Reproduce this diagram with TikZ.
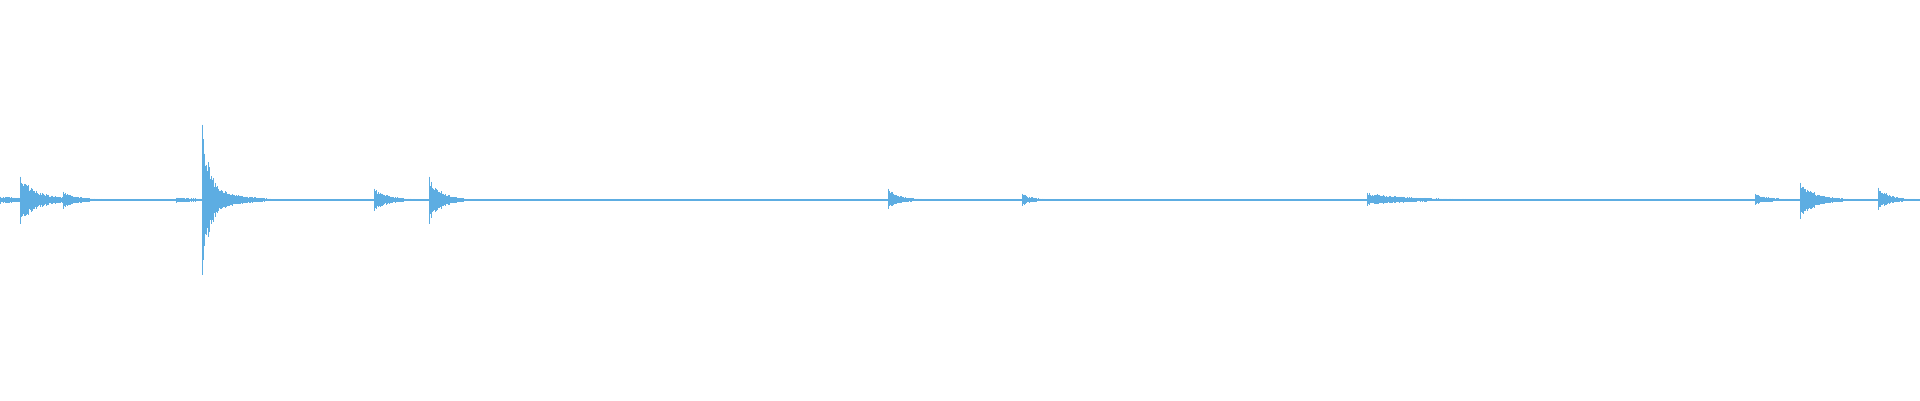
\documentclass[tikz,border=0pt]{standalone}
\definecolor{wavecol}{RGB}{93,173,226}
\begin{document}
\begin{tikzpicture}[x=1pt, y=1pt, wave/.style={draw=wavecol, line width=1pt}]
    \useasboundingbox (0,-200) rectangle (1920,200);
    \pgfmathsetseed{7}
    % baseline
    \draw[wave, line width=1.4pt] (0,0) -- (1920,0);
    % bursts: position / up / down / decay
    \foreach \px/\up/\dn/\dec in {0/3/3/60, 20/23/23/18, 63/8/8/14, 176/2/2/30, 202/75/74/9, 210/20/18/20,
        374/11/10/14, 429/23/23/12, 888/11/8/12, 1022/6/5/10, 1367/7/5/40, 1755/6/4/14,
        1800/17/18/16, 1878/12/9/12} {
        \pgfmathtruncatemacro{\len}{3*\dec}
        \foreach \i in {0,...,\len} {
            \pgfmathsetmacro{\k}{\i==0 ? 1 : exp(-\i/\dec)*(0.6+0.4*rnd)}
            \draw[wave] (\px+\i,\up*\k+0.5) -- (\px+\i,-\dn*\k-0.5);
        }
    }
\end{tikzpicture}
\end{document}
